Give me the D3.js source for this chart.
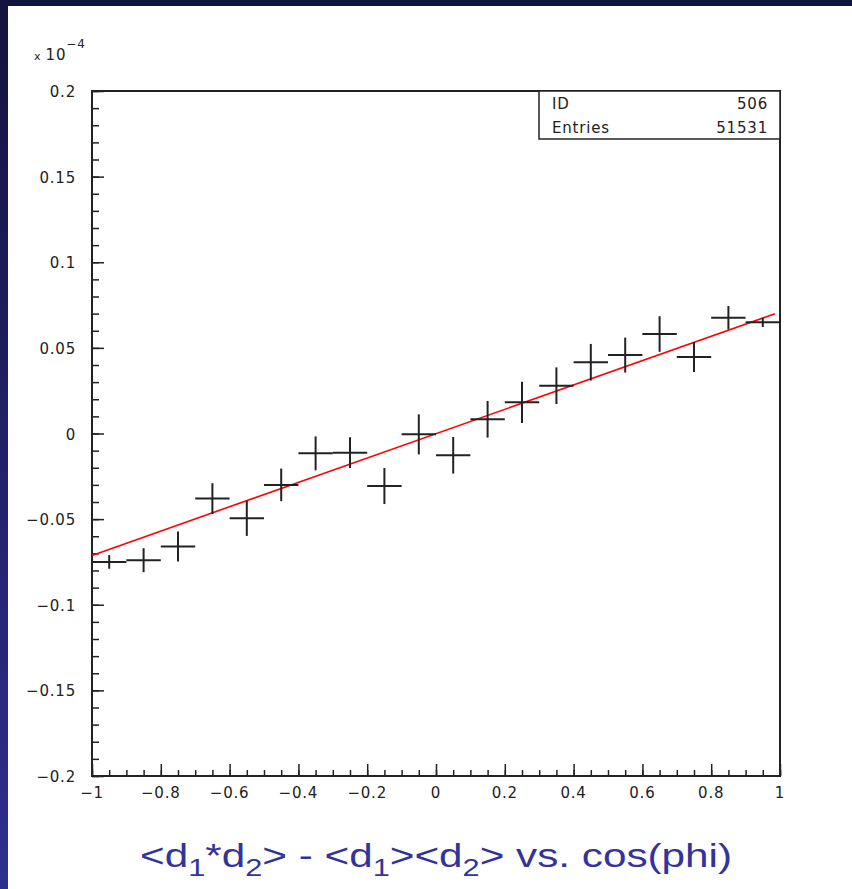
<!DOCTYPE html>
<html>
<head>
<meta charset="utf-8">
<script src="https://cdn.jsdelivr.net/npm/d3@7"></script>
<style>
  body { margin: 0; background: #fff; }
  svg { display: block; }
  .lab { font-family: "DejaVu Sans", sans-serif; letter-spacing: 0.8px; }
  .title { font-family: "Liberation Sans", Arial, sans-serif; }
</style>
</head>
<body>
<svg id="chart" width="852" height="889"></svg>
<script>
// bin centres (cos phi) and the profile values, in units of 1e-4
var binCentres = [-0.95, -0.85, -0.75, -0.65, -0.55, -0.45, -0.35, -0.25, -0.15, -0.05,
                  0.05, 0.15, 0.25, 0.35, 0.45, 0.55, 0.65, 0.75, 0.85, 0.95];
var values = [-0.075, -0.074, -0.066, -0.038, -0.0495, -0.030, -0.0116, -0.0112, -0.0307, -0.0005,
              -0.0127, 0.0083, 0.0182, 0.0279, 0.0416, 0.0458, 0.0581, 0.0447, 0.0676, 0.0649];
var errors = [0.004, 0.007, 0.0088, 0.009, 0.0103, 0.0095, 0.0099, 0.009, 0.0105, 0.0117,
              0.0107, 0.0107, 0.012, 0.0107, 0.0107, 0.0102, 0.0104, 0.0088, 0.0068, 0.0027];
var binWidth = 0.1;

// straight line fit
var fitSlope = 0.0711, fitIntercept = -0.0001;
var fitRange = [-1, 0.985];

var xTicks = [-1, -0.8, -0.6, -0.4, -0.2, 0, 0.2, 0.4, 0.6, 0.8, 1];
var xTickLabels = ["\u22121", "\u22120.8", "\u22120.6", "\u22120.4", "\u22120.2", "0", "0.2", "0.4", "0.6", "0.8", "1"];
var yTicks = [-0.2, -0.15, -0.1, -0.05, 0, 0.05, 0.1, 0.15, 0.2];
var yTickLabels = ["\u22120.2", "\u22120.15", "\u22120.1", "\u22120.05", "0", "0.05", "0.1", "0.15", "0.2"];

var statsLabels = ["ID", "Entries"];
var statsValues = ["506", "51531"];

(function () {
var svg = d3.select("#chart");
var W = 852, H = 889;

// slide frame: dark band on top, gradient strip on the left
var defs = svg.append("defs");
var grad = defs.append("linearGradient").attr("id", "strip")
    .attr("x1", 0).attr("y1", 0).attr("x2", 0).attr("y2", 1);
grad.append("stop").attr("offset", "0%").attr("stop-color", "#13133d");
grad.append("stop").attr("offset", "100%").attr("stop-color", "#2f2f90");

svg.append("rect").attr("width", W).attr("height", H).attr("fill", "#fff");
svg.append("rect").attr("x", 0).attr("y", 0).attr("width", W).attr("height", 6).attr("fill", "#13133f");
svg.append("rect").attr("x", 0).attr("y", 0).attr("width", 8).attr("height", H).attr("fill", "url(#strip)");

var pL = 92, pR = 780, pT = 91, pB = 776;

var x = d3.scaleLinear().domain([-1, 1]).range([pL, pR]);
var y = d3.scaleLinear().domain([-0.2, 0.2]).range([pB, pT]);

var ink = "#222";

// ticks, drawn inward like the original
var g = svg.append("g");
var xAxis = d3.axisTop(x)
    .tickValues(d3.range(-1, 1.0001, 0.05))
    .tickSize(6).tickFormat("");
g.append("g").attr("transform", "translate(0," + pB + ")").call(xAxis);
var xMajor = d3.axisTop(x).tickValues(xTicks).tickSize(12).tickFormat("");
g.append("g").attr("transform", "translate(0," + pB + ")").call(xMajor);

var yAxis = d3.axisRight(y)
    .tickValues(d3.range(-0.2, 0.2001, 0.01))
    .tickSize(7).tickFormat("");
g.append("g").attr("transform", "translate(" + pL + ",0)").call(yAxis);
var yMajor = d3.axisRight(y).tickValues(yTicks).tickSize(12).tickFormat("");
g.append("g").attr("transform", "translate(" + pL + ",0)").call(yMajor);

g.selectAll(".domain").remove();
g.selectAll(".tick line").attr("stroke", ink).attr("stroke-width", 1.5);

// tick labels
svg.append("g").selectAll("text").data(xTicks).join("text")
    .attr("class", "lab")
    .attr("x", d => x(d)).attr("y", pB + 22)
    .attr("text-anchor", "middle")
    .attr("font-size", 15).attr("fill", ink)
    .text((d, i) => xTickLabels[i]);

svg.append("g").selectAll("text").data(yTicks).join("text")
    .attr("class", "lab")
    .attr("x", 76).attr("y", d => y(d) + 6)
    .attr("text-anchor", "end")
    .attr("font-size", 15).attr("fill", ink)
    .text((d, i) => yTickLabels[i]);

// exponent label
var expo = svg.append("text").attr("class", "lab").attr("x", 34).attr("y", 60).attr("fill", ink);
expo.append("tspan").attr("font-size", 11).text("x ");
expo.append("tspan").attr("font-size", 15).text("10");
expo.append("tspan").attr("font-size", 12).attr("dy", -12).text("\u22124");

// frame
svg.append("rect")
    .attr("x", pL).attr("y", pT)
    .attr("width", pR - pL).attr("height", pB - pT)
    .attr("fill", "none").attr("stroke", ink).attr("stroke-width", 2);

// stats box
var sb = { x0: 539, y0: pT, y1: 139 };
svg.append("rect")
    .attr("x", sb.x0).attr("y", sb.y0)
    .attr("width", pR - sb.x0).attr("height", sb.y1 - sb.y0)
    .attr("fill", "#fff").attr("stroke", ink).attr("stroke-width", 1.5);
statsLabels.forEach(function (lab, i) {
    svg.append("text").attr("class", "lab").attr("x", sb.x0 + 13).attr("y", 109 + i * 24)
        .attr("font-size", 15).attr("fill", ink).text(lab);
    svg.append("text").attr("class", "lab").attr("x", pR - 12).attr("y", 109 + i * 24)
        .attr("text-anchor", "end")
        .attr("font-size", 15).attr("fill", ink).text(statsValues[i]);
});

// fit line
var fitLine = d3.line().x(d => x(d)).y(d => y(fitSlope * d + fitIntercept));
svg.append("path")
    .datum(fitRange)
    .attr("d", fitLine)
    .attr("fill", "none").attr("stroke", "#ff0000").attr("stroke-width", 1.6);

// error crosses
var pts = svg.append("g").selectAll("g").data(binCentres).join("g");
pts.append("line")
    .attr("x1", d => x(d - binWidth / 2)).attr("x2", d => x(d + binWidth / 2))
    .attr("y1", (d, i) => y(values[i])).attr("y2", (d, i) => y(values[i]))
    .attr("stroke", ink).attr("stroke-width", 2);
pts.append("line")
    .attr("x1", d => x(d)).attr("x2", d => x(d))
    .attr("y1", (d, i) => y(values[i] - errors[i])).attr("y2", (d, i) => y(values[i] + errors[i]))
    .attr("stroke", ink).attr("stroke-width", 2);

// slide title (the slide stretches it sideways)
var title = svg.append("text")
    .attr("class", "title")
    .attr("x", 140).attr("y", 867)
    .attr("textLength", 592).attr("lengthAdjust", "spacingAndGlyphs")
    .attr("font-size", 33).attr("fill", "#33339b");
var parts = [["<d", 0], ["1", 1], ["*d", 0], ["2", 1], ["> - <d", 0], ["1", 1], ["><d", 0], ["2", 1], ["> vs. cos(phi)", 0]];
var sub = false;
parts.forEach(function (p) {
    var t = title.append("tspan").text(p[0]);
    if (p[1]) t.attr("font-size", 24);
    if (p[1] && !sub) { t.attr("dy", 9); sub = true; }
    else if (!p[1] && sub) { t.attr("dy", -9); sub = false; }
});
})();
</script>
</body>
</html>
